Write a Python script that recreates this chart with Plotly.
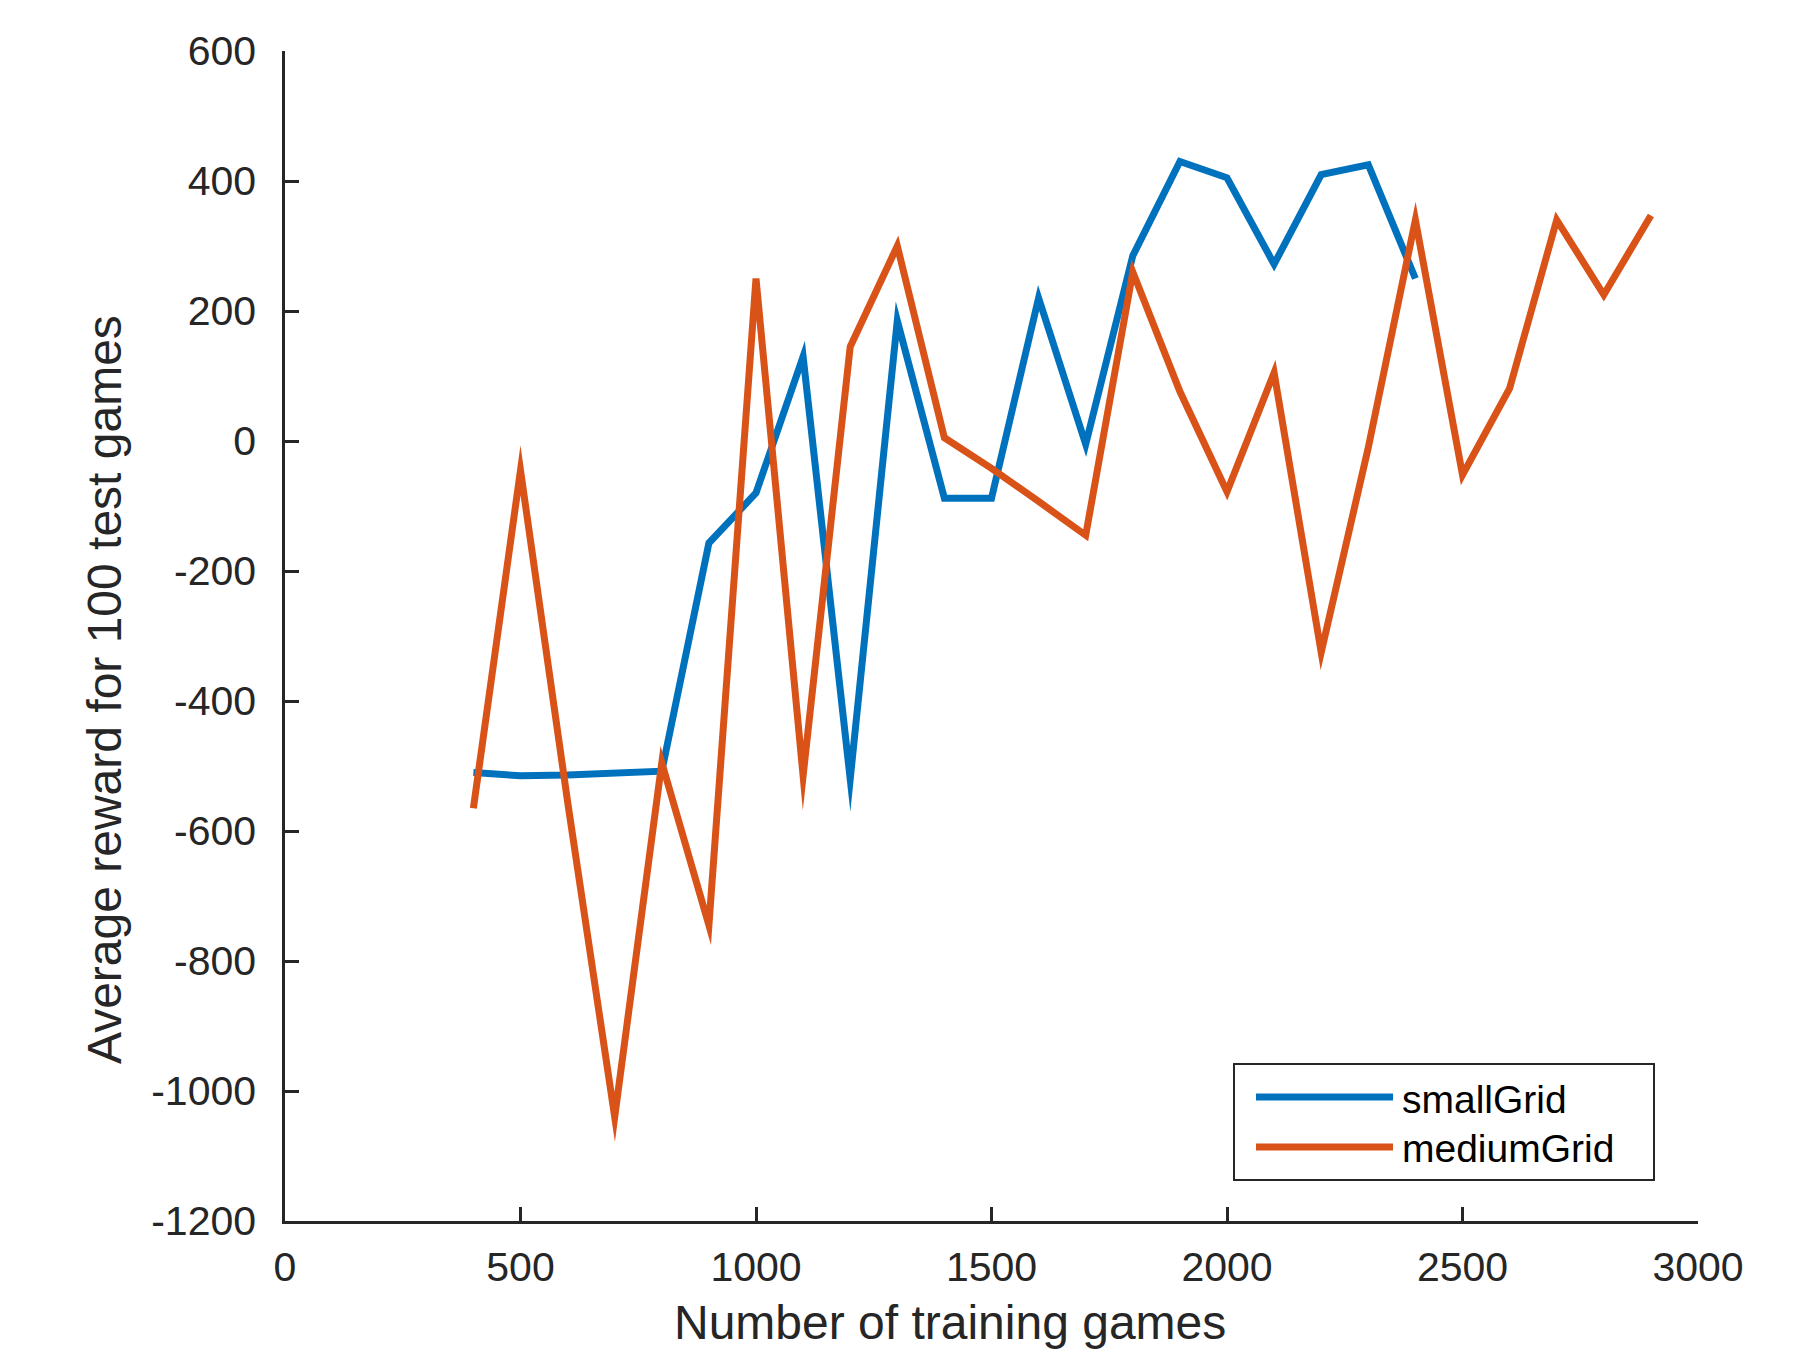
import plotly.graph_objects as go

small_x = [400, 500, 600, 700, 800, 900, 1000, 1100, 1200, 1300, 1400, 1500, 1600,
           1700, 1800, 1900, 2000, 2100, 2200, 2300, 2400]
small_y = [-510, -515, -514, -512, -508, -157, -80, 130, -520, 185, -88, -88, 220,
           -5, 285, 430, 405, 272, 410, 425, 250]

medium_x = [400, 500, 600, 700, 800, 900, 1000, 1100, 1200, 1300, 1400, 1500, 1600,
            1700, 1800, 1900, 2000, 2100, 2200, 2300, 2400, 2500, 2600, 2700, 2800, 2900]
medium_y = [-565, -45, -555, -1040, -495, -745, 250, -515, 145, 300, 5, -42, -93,
            -145, 260, 76, -78, 105, -325, -10, 340, -52, 81, 340, 225, 347]

series_names = ["smallGrid", "mediumGrid"]
x_ticks = [0, 500, 1000, 1500, 2000, 2500, 3000]
y_ticks = [600, 400, 200, 0, -200, -400, -600, -800, -1000, -1200]

AX = "#262626"
BLUE = "#0072BD"
ORANGE = "#D95319"
FONT = "Liberation Sans, Arial, Helvetica, sans-serif"
LW = 7

# plot area in page pixels (the page body adds an 8px margin)
W, H = 1816, 1354
PL, PR, PT, PB = 285, 1698, 51, 1221
BODY = 8


def px(x):
    return (x - PL) / (PR - PL)


def py(y):
    return (PB - y) / (PB - PT)


fig = go.Figure()
fig.add_trace(go.Scatter(x=small_x, y=small_y, mode="lines", name=series_names[0],
                         line=dict(color=BLUE, width=LW), showlegend=False))
fig.add_trace(go.Scatter(x=medium_x, y=medium_y, mode="lines", name=series_names[1],
                         line=dict(color=ORANGE, width=LW), showlegend=False))

shapes = [
    dict(type="rect", xref="paper", yref="paper", x0=px(1234), x1=px(1654), y0=py(1180), y1=py(1064),
         line=dict(color=AX, width=2), fillcolor="white", layer="above"),
    dict(type="line", xref="paper", yref="paper", x0=px(1256), x1=px(1393), y0=py(1097), y1=py(1097),
         line=dict(color=BLUE, width=LW), layer="above"),
    dict(type="line", xref="paper", yref="paper", x0=px(1256), x1=px(1393), y0=py(1147), y1=py(1147),
         line=dict(color=ORANGE, width=LW), layer="above"),
]
annotations = [
    dict(text=series_names[0], xref="paper", yref="paper", x=px(1400), y=py(1099),
         xanchor="left", yanchor="middle", showarrow=False,
         font=dict(family=FONT, size=39, color="black")),
    dict(text=series_names[1], xref="paper", yref="paper", x=px(1400), y=py(1148),
         xanchor="left", yanchor="middle", showarrow=False,
         font=dict(family=FONT, size=39, color="black")),
    dict(text="Number of training games", xref="paper", yref="paper", x=px(950), y=py(1322),
         xanchor="center", yanchor="middle", showarrow=False,
         font=dict(family=FONT, size=48, color=AX)),
    dict(text="Average reward for 100 test games", xref="paper", yref="paper", x=px(104), y=py(690),
         xanchor="center", yanchor="middle", showarrow=False, textangle=-90,
         font=dict(family=FONT, size=48, color=AX)),
]

fig.update_layout(
    width=W, height=H,
    margin=dict(l=PL - BODY, r=W - PR + BODY, t=PT - BODY, b=H - PB + BODY, autoexpand=False),
    paper_bgcolor="white", plot_bgcolor="white",
    font=dict(family=FONT, color=AX, size=41),
    showlegend=False,
    shapes=shapes,
    annotations=annotations,
    xaxis=dict(
        range=[0, 3000], tickvals=x_ticks, ticktext=[str(v) for v in x_ticks],
        showline=True, linecolor=AX, linewidth=2.5, mirror=False,
        ticks="inside", ticklen=14, tickwidth=2.5, tickcolor=AX,
        showgrid=False, zeroline=False, ticklabelstandoff=8,
        tickfont=dict(size=41, color=AX),
    ),
    yaxis=dict(
        range=[-1200, 600], tickvals=y_ticks, ticktext=[str(v) for v in y_ticks],
        showline=True, linecolor=AX, linewidth=2.5, mirror=False,
        ticks="inside", ticklen=14, tickwidth=2.5, tickcolor=AX,
        showgrid=False, zeroline=False, ticklabelstandoff=18,
        tickfont=dict(size=41, color=AX),
    ),
)

post = ("document.querySelectorAll('.scatterlayer .js-line').forEach(function(p){"
        "p.style.strokeLinejoin='miter';p.style.strokeMiterlimit='10';});")
fig.write_html("out.html", post_script=post)
